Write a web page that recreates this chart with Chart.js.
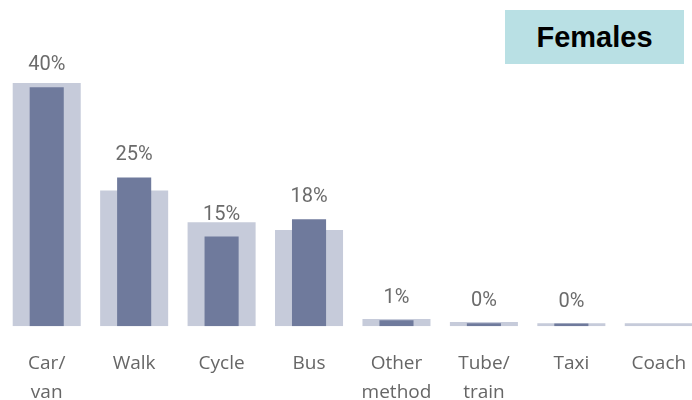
<!DOCTYPE html>
<html>
<head>
<meta charset="utf-8">
<script src="https://cdn.jsdelivr.net/npm/chart.js@4"></script>
<style>
  html, body { margin: 0; padding: 0; background: #fff; overflow: hidden; }
  #wrap { position: relative; width: 706px; height: 428px; }
  #tag {
    position: absolute; left: 505px; top: 10px; width: 179px; height: 54px;
    background: #b9e0e4; color: #000;
    font: bold 29px "Liberation Sans", Arial, sans-serif;
    display: flex; align-items: center; justify-content: center;
  }
</style>
</head>
<body>
<div id="wrap">
  <canvas id="myChart" width="706" height="428"></canvas>
  <div id="tag">Females</div>
</div>
<script>
// Travel mode shares (%)
const categories = [['Car/', 'van'], 'Walk', 'Cycle', 'Bus', ['Other', 'method'], ['Tube/', 'train'], 'Taxi', 'Coach'];
const femaleValues = [40, 24.9, 15, 17.9, 1, 0.5, 0.45, null];
const allValues = [40.7, 22.7, 17.4, 16.1, 1.2, 0.7, 0.5, 0.5];
const valueLabels = ['40%', '25%', '15%', '18%', '1%', '0%', '0%', ''];

// Draw the % labels above the narrow (female) bars
const valueLabelPlugin = {
  id: 'valueLabels',
  afterDatasetsDraw(chart) {
    const meta = chart.getDatasetMeta(1);
    const ctx = chart.ctx;
    ctx.save();
    ctx.font = '20px Roboto, sans-serif';
    ctx.fillStyle = '#6b6b6b';
    ctx.textAlign = 'center';
    ctx.textBaseline = 'middle';
    meta.data.forEach((bar, i) => {
      if (!valueLabels[i]) return;
      ctx.fillText(valueLabels[i], bar.x, bar.y - 22);
    });
    ctx.restore();
  }
};

const data = {
  labels: categories,
  datasets: [
    {
      label: 'All',
      data: allValues,
      backgroundColor: '#c6cbda',
      barPercentage: 0.778,
      categoryPercentage: 1,
      grouped: false,
      order: 2
    },
    {
      label: 'Females',
      data: femaleValues,
      backgroundColor: '#6f7a9c',
      barPercentage: 0.39,
      categoryPercentage: 1,
      grouped: false,
      order: 1
    }
  ]
};

const config = {
  type: 'bar',
  data: data,
  options: {
    responsive: false,
    animation: false,
    layout: { padding: { left: 3, right: 3.5, top: 27.5, bottom: 6 } },
    plugins: {
      legend: { display: false },
      tooltip: { enabled: false }
    },
    scales: {
      x: {
        grid: { display: false },
        border: { display: false },
        ticks: {
          color: '#666',
          padding: 15,
          autoSkip: false,
          maxRotation: 0,
          font: { family: '"Open Sans", sans-serif', size: 19, lineHeight: 1.52 }
        }
      },
      y: {
        display: false,
        min: 0,
        max: 50
      }
    }
  },
  plugins: [valueLabelPlugin]
};

new Chart(document.getElementById('myChart'), config);
</script>
</body>
</html>
